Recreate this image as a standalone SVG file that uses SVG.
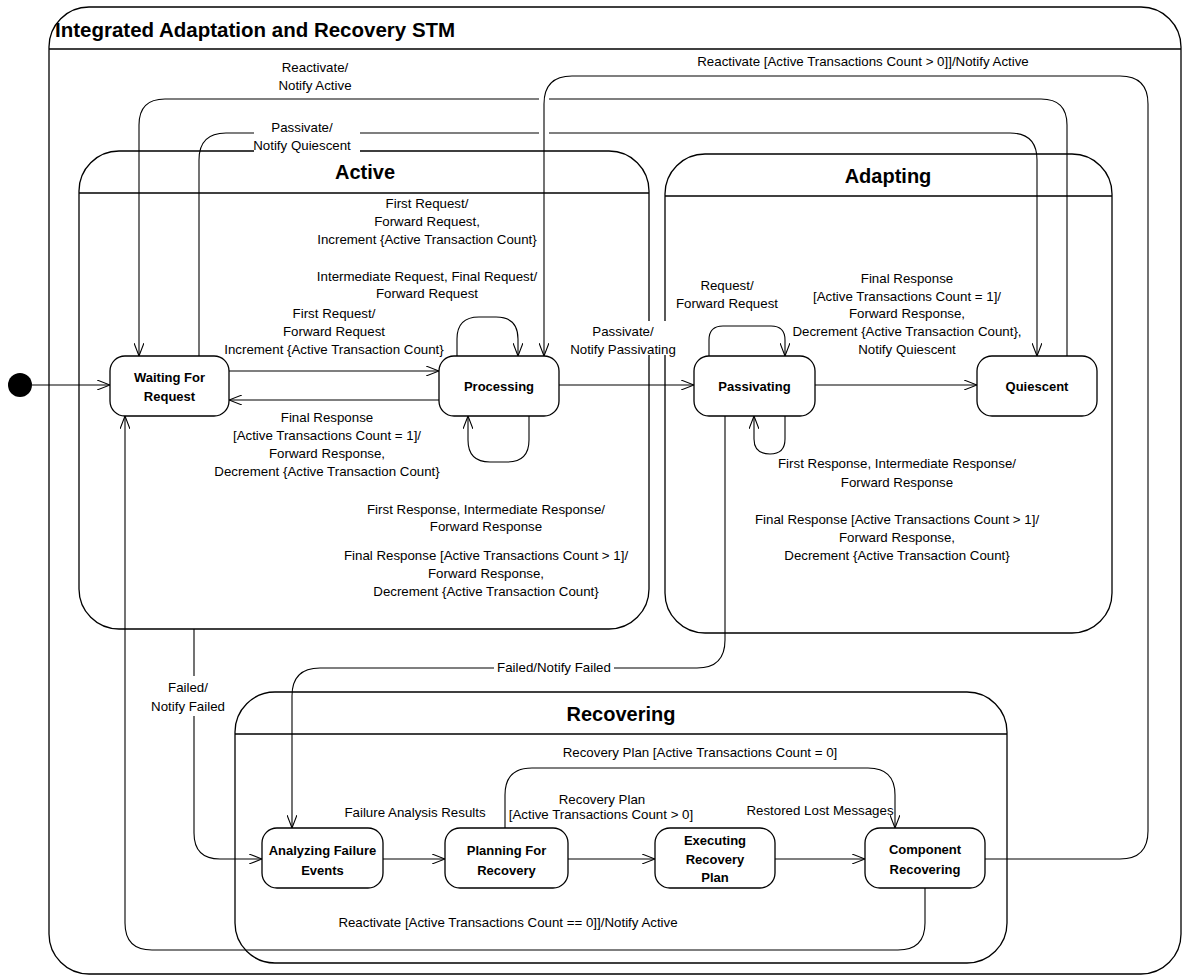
<svg xmlns="http://www.w3.org/2000/svg" width="1184" height="978" viewBox="0 0 1184 978">
<style>
.reg{fill:none;stroke:#000;stroke-width:1.3}
.node{fill:#fff;stroke:#000;stroke-width:1.3}
.c{fill:none;stroke:#000;stroke-width:1.1}
.t{font-family:"Liberation Sans",Arial,sans-serif;font-size:13.3px;fill:#000;text-anchor:middle}
.nt{font-family:"Liberation Sans",Arial,sans-serif;font-size:13px;font-weight:bold;fill:#000;text-anchor:middle}
.rt{font-family:"Liberation Sans",Arial,sans-serif;font-size:20px;font-weight:bold;fill:#000;text-anchor:middle}
.bg{fill:#fff;stroke:none}
</style>
<defs>
<marker id="arr" viewBox="0 0 13 10" refX="13" refY="5" markerWidth="13" markerHeight="10" markerUnits="userSpaceOnUse" orient="auto">
<path d="M0,0 L13,5 L0,10" fill="none" stroke="#000" stroke-width="1.1"/>
</marker>
</defs>
<rect width="1184" height="978" fill="#fff"/>

<g id="frame">
<rect class="reg" x="49" y="7" width="1132" height="967" rx="40"/>
<line class="reg" x1="49" y1="49" x2="1181" y2="49"/>
<text x="55" y="37" font-family="Liberation Sans, Arial, sans-serif" font-size="20.5" font-weight="bold">Integrated Adaptation and Recovery STM</text>
</g>

<g id="region-active">
<rect class="reg" x="79" y="151" width="570" height="478" rx="40"/>
<line class="reg" x1="79" y1="193" x2="649" y2="193"/>
<text class="rt" x="365" y="179">Active</text>
</g>
<g id="region-adapting">
<rect class="reg" x="665" y="154" width="447" height="479" rx="40"/>
<line class="reg" x1="665" y1="196" x2="1112" y2="196"/>
<text class="rt" x="888" y="183">Adapting</text>
</g>
<g id="region-recovering">
<rect class="reg" x="235" y="692" width="772" height="271" rx="40"/>
<line class="reg" x1="235" y1="734" x2="1007" y2="734"/>
<text class="rt" x="621" y="721">Recovering</text>
</g>

<g id="connectors">
<path class="c" marker-end="url(#arr)" d="M32,385 H110"/>
<path class="c" marker-end="url(#arr)" d="M229,371 H439"/>
<path class="c" marker-end="url(#arr)" d="M439,400 H229"/>
<path class="c" marker-end="url(#arr)" d="M457,356 V339 Q457,317 479,317 H496 Q518,317 518,339 V356"/>
<path class="c" marker-end="url(#arr)" d="M529,416 V440 Q529,462 507,462 H490 Q468,462 468,440 V416"/>
<path class="c" marker-end="url(#arr)" d="M559,385 H694"/>
<path class="c" marker-end="url(#arr)" d="M709,356 V340 Q709,326 723,326 H771 Q785,326 785,340 V356"/>
<path class="c" marker-end="url(#arr)" d="M785,416 V439 Q785,454 770,454 Q754,454 754,439 V416"/>
<path class="c" marker-end="url(#arr)" d="M815,385 H977"/>
<path class="c" marker-end="url(#arr)" d="M1067,356 V125 Q1067,99 1041,99 H549 M539,99 H165 Q139,99 139,125 V356"/>
<path class="c" marker-end="url(#arr)" d="M199,356 V160 Q199,133 226,133 H539 M549,133 H1010 Q1037,133 1037,160 V356"/>
<path class="c" marker-end="url(#arr)" d="M985,859 H1120 Q1148,859 1148,831 V104 Q1148,76 1120,76 H572 Q544,76 544,104 V356"/>
<path class="c" marker-end="url(#arr)" d="M194,629 V833 Q194,859 220,859 H262"/>
<path class="c" marker-end="url(#arr)" d="M725,416 V640 Q725,668 697,668 H320 Q292,668 292,696 V828"/>
<path class="c" marker-end="url(#arr)" d="M383,859 H445"/>
<path class="c" marker-end="url(#arr)" d="M568,859 H655"/>
<path class="c" marker-end="url(#arr)" d="M775,859 H865"/>
<path class="c" marker-end="url(#arr)" d="M505,828 V795 Q505,768 532,768 H868 Q895,768 895,795 V828"/>
<path class="c" marker-end="url(#arr)" d="M925,888 V923 Q925,950 898,950 H152 Q125,950 125,923 V416"/>
</g>

<g id="labels">
<text class="t" x="315" y="72">Reactivate/</text>
<text class="t" x="315" y="90">Notify Active</text>
<text class="t" x="863" y="66">Reactivate [Active Transactions Count &gt; 0]]/Notify Active</text>
<rect class="bg" x="254" y="119" width="106" height="33"/>
<text class="t" x="302" y="132">Passivate/</text>
<text class="t" x="302" y="150">Notify Quiescent</text>
<text class="t" x="427" y="208">First Request/</text>
<text class="t" x="427" y="226">Forward Request,</text>
<text class="t" x="427" y="244">Increment {Active Transaction Count}</text>
<text class="t" x="427" y="281">Intermediate Request, Final Request/</text>
<text class="t" x="427" y="298">Forward Request</text>
<text class="t" x="334" y="318">First Request/</text>
<text class="t" x="334" y="336">Forward Request</text>
<text class="t" x="334" y="354">Increment {Active Transaction Count}</text>
<text class="t" x="327" y="422">Final Response</text>
<text class="t" x="327" y="440">[Active Transactions Count = 1]/</text>
<text class="t" x="327" y="458">Forward Response,</text>
<text class="t" x="327" y="476">Decrement {Active Transaction Count}</text>
<text class="t" x="486" y="514">First Response, Intermediate Response/</text>
<text class="t" x="486" y="531">Forward Response</text>
<text class="t" x="486" y="560">Final Response [Active Transactions Count &gt; 1]/</text>
<text class="t" x="486" y="578">Forward Response,</text>
<text class="t" x="486" y="596">Decrement {Active Transaction Count}</text>
<rect class="bg" x="566" y="321" width="114" height="34"/>
<text class="t" x="623" y="336">Passivate/</text>
<text class="t" x="623" y="354">Notify Passivating</text>
<text class="t" x="727" y="290">Request/</text>
<text class="t" x="727" y="308">Forward Request</text>
<text class="t" x="907" y="283">Final Response</text>
<text class="t" x="907" y="301">[Active Transactions Count = 1]/</text>
<text class="t" x="907" y="318">Forward Response,</text>
<text class="t" x="907" y="336">Decrement {Active Transaction Count},</text>
<text class="t" x="907" y="354">Notify Quiescent</text>
<text class="t" x="897" y="468">First Response, Intermediate Response/</text>
<text class="t" x="897" y="487">Forward Response</text>
<text class="t" x="897" y="524">Final Response [Active Transactions Count &gt; 1]/</text>
<text class="t" x="897" y="542">Forward Response,</text>
<text class="t" x="897" y="560">Decrement {Active Transaction Count}</text>
<rect class="bg" x="150" y="676" width="78" height="40"/>
<text class="t" x="188" y="692">Failed/</text>
<text class="t" x="188" y="711">Notify Failed</text>
<rect class="bg" x="494" y="659" width="120" height="18"/>
<text class="t" x="554" y="672">Failed/Notify Failed</text>
<text class="t" x="700" y="757">Recovery Plan [Active Transactions Count = 0]</text>
<text class="t" x="415" y="817">Failure Analysis Results</text>
<text class="t" x="602" y="804">Recovery Plan</text>
<text class="t" x="601" y="819">[Active Transactions Count &gt; 0]</text>
<text class="t" x="820" y="815">Restored Lost Messages</text>
<text class="t" x="508" y="927">Reactivate [Active Transactions Count == 0]]/Notify Active</text>
</g>

<g id="initial"><circle cx="20" cy="385" r="12" fill="#000"/></g>
<g id="waiting"><rect class="node" x="110" y="356" width="119" height="60" rx="15"/><text class="nt" x="169.5" y="381.5">Waiting For</text><text class="nt" x="169.5" y="400.5">Request</text></g>
<g id="processing"><rect class="node" x="439" y="356" width="120" height="60" rx="15"/><text class="nt" x="499" y="390.5">Processing</text></g>
<g id="passivating"><rect class="node" x="694" y="356" width="121" height="60" rx="15"/><text class="nt" x="754.5" y="390.5">Passivating</text></g>
<g id="quiescent"><rect class="node" x="977" y="356" width="120" height="60" rx="15"/><text class="nt" x="1037" y="390.5">Quiescent</text></g>
<g id="analyzing"><rect class="node" x="262" y="828" width="121" height="60" rx="15"/><text class="nt" x="322.5" y="854.5">Analyzing Failure</text><text class="nt" x="322.5" y="874.5">Events</text></g>
<g id="planning"><rect class="node" x="445" y="828" width="123" height="60" rx="15"/><text class="nt" x="506.5" y="854.5">Planning For</text><text class="nt" x="506.5" y="874.5">Recovery</text></g>
<g id="executing"><rect class="node" x="655" y="828" width="120" height="60" rx="15"/><text class="nt" x="715" y="845">Executing</text><text class="nt" x="715" y="864">Recovery</text><text class="nt" x="715" y="882">Plan</text></g>
<g id="component"><rect class="node" x="865" y="828" width="120" height="60" rx="15"/><text class="nt" x="925" y="854">Component</text><text class="nt" x="925" y="873.5">Recovering</text></g>
</svg>
